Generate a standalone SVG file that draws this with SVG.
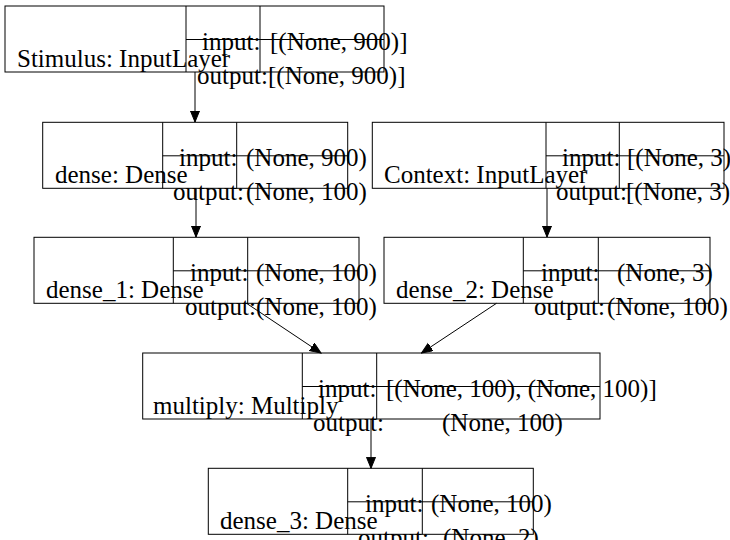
<svg xmlns="http://www.w3.org/2000/svg" width="730" height="540" viewBox="0 0 730 540">
<defs>
<style>
.box{fill:none;stroke:#000;stroke-width:1}
.t{font-family:"Liberation Serif","Times New Roman",serif;font-size:25px;fill:#000}
.e{stroke:#000;stroke-width:1;fill:none}
</style>
<marker id="arr" markerUnits="userSpaceOnUse" markerWidth="12" markerHeight="10" refX="11" refY="4.5" orient="auto">
<path d="M0,0 L11,4.5 L0,9 z" fill="#000" stroke="#000" stroke-width="1"/>
</marker>
</defs>
<rect width="730" height="540" fill="#fff"/>

<g id="edges">
<line class="e" x1="195" y1="72" x2="195" y2="122" marker-end="url(#arr)"/>
<line class="e" x1="196" y1="188.3" x2="196" y2="237" marker-end="url(#arr)"/>
<line class="e" x1="547" y1="188.3" x2="547" y2="237" marker-end="url(#arr)"/>
<line class="e" x1="246.5" y1="303.3" x2="321" y2="353" marker-end="url(#arr)"/>
<line class="e" x1="496.5" y1="303.3" x2="421.5" y2="353" marker-end="url(#arr)"/>
<line class="e" x1="371" y1="419" x2="371" y2="468.3" marker-end="url(#arr)"/>
</g>

<g id="Stimulus">
<rect class="box" x="5" y="6" width="379" height="66"/>
<path class="box" d="M186,6 V72 M260,6 V72 M186,39.5 H384"/>
<text class="t" x="17" y="66.5">Stimulus: InputLayer</text>
<text class="t" x="202" y="50">input:</text>
<text class="t" x="270" y="50">[(None, 900)]</text>
<text class="t" x="197" y="84">output:</text>
<text class="t" x="268" y="84">[(None, 900)]</text>
</g>

<g id="dense">
<rect class="box" x="42.7" y="122.3" width="305" height="66"/>
<path class="box" d="M162.7,122.3 V188.3 M236.7,122.3 V188.3 M162.7,155.8 H347.7"/>
<text class="t" x="55" y="182.8">dense: Dense</text>
<text class="t" x="179" y="166.3">input:</text>
<text class="t" x="246" y="166.3">(None, 900)</text>
<text class="t" x="173" y="200.3">output:</text>
<text class="t" x="246" y="200.3">(None, 100)</text>
</g>

<g id="Context">
<rect class="box" x="372.3" y="122.3" width="351.7" height="66"/>
<path class="box" d="M546,122.3 V188.3 M619.3,122.3 V188.3 M546,155.8 H724"/>
<text class="t" x="384" y="182.8">Context: InputLayer</text>
<text class="t" x="562" y="166.3">input:</text>
<text class="t" x="627" y="166.3">[(None, 3)]</text>
<text class="t" x="556" y="200.3">output:</text>
<text class="t" x="626" y="200.3">[(None, 3)]</text>
</g>

<g id="dense_1">
<rect class="box" x="34" y="237.3" width="325" height="66"/>
<path class="box" d="M173.3,237.3 V303.3 M247.7,237.3 V303.3 M173.3,270.8 H359"/>
<text class="t" x="46" y="297.8">dense_1: Dense</text>
<text class="t" x="190" y="281.3">input:</text>
<text class="t" x="256" y="281.3">(None, 100)</text>
<text class="t" x="185" y="315.3">output:</text>
<text class="t" x="256" y="315.3">(None, 100)</text>
</g>

<g id="dense_2">
<rect class="box" x="384" y="237.3" width="326" height="66"/>
<path class="box" d="M523.3,237.3 V303.3 M598.3,237.3 V303.3 M523.3,270.8 H710"/>
<text class="t" x="396" y="297.8">dense_2: Dense</text>
<text class="t" x="541" y="281.3">input:</text>
<text class="t" x="617" y="281.3">(None, 3)</text>
<text class="t" x="534" y="315.3">output:</text>
<text class="t" x="607" y="315.3">(None, 100)</text>
</g>

<g id="multiply">
<rect class="box" x="142.7" y="353" width="457.3" height="66"/>
<path class="box" d="M302.3,353 V419 M376.7,353 V419 M302.3,386.5 H600"/>
<text class="t" x="153" y="413.5">multiply: Multiply</text>
<text class="t" x="318" y="397">input:</text>
<text class="t" x="386" y="397">[(None, 100), (None, 100)]</text>
<text class="t" x="313" y="431">output:</text>
<text class="t" x="442" y="431">(None, 100)</text>
</g>

<g id="dense_3">
<rect class="box" x="208.3" y="468.3" width="325" height="66"/>
<path class="box" d="M347.7,468.3 V534.3 M422.3,468.3 V534.3 M347.7,501.8 H533.3"/>
<text class="t" x="220" y="528.8">dense_3: Dense</text>
<text class="t" x="365" y="512.3">input:</text>
<text class="t" x="431" y="512.3">(None, 100)</text>
<text class="t" x="358" y="546.3">output:</text>
<text class="t" x="443" y="546.3">(None, 2)</text>
</g>
</svg>
